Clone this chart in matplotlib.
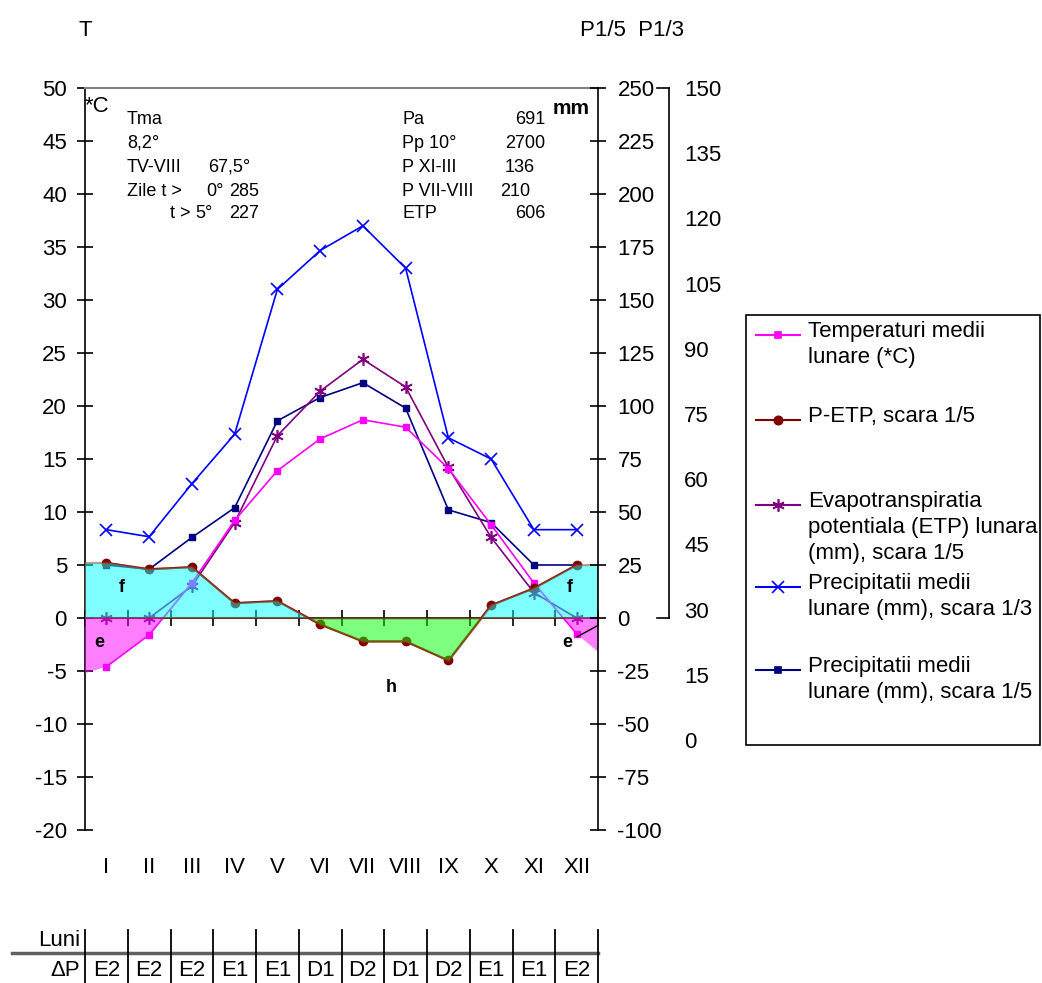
import numpy as np
import matplotlib
matplotlib.use('Agg')
import matplotlib.pyplot as plt
import matplotlib.transforms as mtransforms
from matplotlib.lines import Line2D
from matplotlib.patches import Rectangle

plt.rcParams['font.family'] = ['Liberation Sans', 'DejaVu Sans']
plt.rcParams['axes.unicode_minus'] = False

# date
luni = ['I', 'II', 'III', 'IV', 'V', 'VI', 'VII', 'VIII', 'IX', 'X', 'XI', 'XII']
delta_p = ['E2', 'E2', 'E2', 'E1', 'E1', 'D1', 'D2', 'D1', 'D2', 'E1', 'E1', 'E2']

temp = [-4.6, -1.6, 3.3, 9.2, 13.9, 16.9, 18.7, 18.0, 14.1, 8.8, 3.3, -1.5]   # *C
etp = [0, 0, 15, 45, 86, 107, 122, 109, 71, 38, 12, 0]                       # mm
prec = [25, 23, 38, 52, 93, 104, 111, 99, 51, 45, 25, 25]                    # mm
p_etp = [26, 23, 24, 7, 8, -3, -11, -11, -20, 6, 14, 25]                     # mm

W, H = 1042, 983
fig = plt.figure(figsize=(W / 100, H / 100), dpi=100)

def fx(x):
    return x / W

def fy(y):
    return 1 - y / H

ax = fig.add_axes([fx(85), fy(830), fx(598) - fx(85), fy(88) - fy(830)])
x = np.arange(12)

t = np.array(temp)
pe = np.array(p_etp) / 5

# linii
ax.plot(x, np.array(prec) / 3, color='#0000FF', lw=1.2, marker='x', ms=8, mew=1.2, zorder=2)
ax.plot(x, np.array(prec) / 5, color='#000080', lw=1.2, marker='s', ms=5, zorder=2)
ax.plot(x, np.array(etp) / 5, color='#800080', lw=1.2, marker=(6, 2, 0), ms=9, mew=1.2, zorder=2)
ax.plot(x, t, color='#FF00FF', lw=1.2, marker='s', ms=4, zorder=2)
ax.plot(x, pe, color='#800000', lw=1.5, marker='o', ms=6, zorder=2)

# zone colorate (peste linii, semi-transparente)
xe = np.r_[-0.5, x, 11.5]
pee = np.r_[pe[0], pe, pe[-1]]
te = np.r_[t[0] + (t[0] - t[1]) * 0.2, t, t[-1] + (t[-1] - t[-2]) * 0.35]
ax.fill_between(xe, 0, pee, where=pee >= 0, interpolate=True, facecolor='#00FFFF',
                alpha=0.5, edgecolor='#A0401A', lw=1.5, zorder=3)
ax.fill_between(xe, 0, pee, where=pee <= 0, interpolate=True, facecolor='#00FF00',
                alpha=0.5, edgecolor='#A0401A', lw=1.5, zorder=3)
ax.fill_between(xe, 0, te, where=te <= 0, interpolate=True, facecolor='#FF00FF',
                alpha=0.5, edgecolor='none', zorder=3)

ax.text(0.37, 2.9, 'f', fontsize=13, fontweight='bold', ha='center', va='center', zorder=5)
ax.text(10.85, 2.9, 'f', fontsize=13, fontweight='bold', ha='center', va='center', zorder=5)
ax.text(-0.17, -2.3, 'e', fontsize=13, fontweight='bold', ha='center', va='center', zorder=5)
ax.annotate('e', xy=(11.5, -0.7), xytext=(10.77, -2.3), fontsize=13, fontweight='bold',
            ha='center', va='center', zorder=5,
            arrowprops=dict(arrowstyle='-', color='black', lw=1, shrinkA=2, shrinkB=0))
ax.text(6.66, -6.6, 'h', fontsize=13, fontweight='bold', ha='center', va='center', zorder=5)

ax.set_xlim(-0.5, 11.5)
ax.set_ylim(-20, 50)
ax.set_yticks(range(-20, 51, 5))
ax.set_xticks(np.arange(-0.5, 12, 1))
ax.tick_params(axis='x', direction='inout', length=12, width=1.2, labelbottom=False)
ax.tick_params(axis='y', direction='inout', length=12, width=1.2, pad=7, labelsize=16)
ax.spines['bottom'].set_position(('data', 0))
ax.spines['bottom'].set_linewidth(1.2)
ax.spines['left'].set_linewidth(1.2)
ax.spines['right'].set_visible(False)
ax.spines['top'].set_color('#808080')
ax.spines['top'].set_linewidth(1.5)

tr = mtransforms.blended_transform_factory(ax.transData, ax.transAxes)
for i, name in enumerate(luni):
    ax.text(i, -0.0512, name, transform=tr, ha='center', va='center', fontsize=16)

# axa mm (scara 1/5)
ax2 = ax.twinx()
ax2.set_ylim(-100, 250)
ax2.set_yticks(range(-100, 251, 25))
ax2.tick_params(axis='y', direction='inout', length=12, width=1.2, pad=8, labelsize=16)
for s in ['top', 'left', 'bottom']:
    ax2.spines[s].set_visible(False)
ax2.spines['right'].set_linewidth(1.2)

# a treia axa (scara 1/3)
ax3 = ax.twinx()
ax3.set_ylim(-20.7, 150)
ax3.set_yticks(range(0, 151, 15))
ax3.spines['right'].set_position(('axes', (669 - 85) / 513))
ax3.spines['right'].set_bounds(28.05, 150)
ax3.spines['right'].set_linewidth(1.2)
ax3.tick_params(axis='y', length=0, pad=11, labelsize=16)
for s in ['top', 'left', 'bottom']:
    ax3.spines[s].set_visible(False)
tr3 = mtransforms.blended_transform_factory(ax3.transAxes, ax3.transData)
x0, x1 = (657 - 85) / 513, (669 - 85) / 513
ax3.plot([x0, x1], [150, 150], color='black', lw=1.2, transform=tr3, clip_on=False)
ax3.plot([x0, x1], [28.05, 28.05], color='black', lw=1.2, transform=tr3, clip_on=False)

# texte
def ftext(x, y, s, **kw):
    kw.setdefault('fontsize', 13)
    kw.setdefault('va', 'center')
    fig.text(fx(x), fy(y), s, **kw)

ftext(85, 30, 'T', fontsize=16, ha='center')
ftext(580, 30, 'P1/5  P1/3', fontsize=16)
ftext(85, 106, '*C', fontsize=16)
ftext(553, 108, 'mm', fontsize=15, fontweight='bold')

ftext(127, 120, 'Tma')
ftext(127, 143, '8,2°')
ftext(127, 167, 'TV-VIII')
ftext(208, 167, '67,5°')
ftext(127, 191, 'Zile t >')
ftext(206, 191, '0°')
ftext(229, 191, '285')
ftext(170, 213, 't >')
ftext(195, 213, '5°')
ftext(229, 213, '227')

ftext(402, 120, 'Pa')
ftext(545, 120, '691', ha='right')
ftext(402, 143, 'Pp 10°')
ftext(545, 143, '2700', ha='right')
ftext(402, 167, 'P XI-III')
ftext(535, 167, '136', ha='right')
ftext(402, 191, 'P VII-VIII')
ftext(530, 191, '210', ha='right')
ftext(402, 213, 'ETP')
ftext(545, 213, '606', ha='right')

# legenda
fig.add_artist(Rectangle((fx(746), fy(745)), fx(1040) - fx(746), fy(315) - fy(745),
                         transform=fig.transFigure, fill=False, edgecolor='black', lw=1.2))
leg = [
    ('#FF00FF', 's', 4, 'Temperaturi medii\nlunare (*C)', 335),
    ('#800000', 'o', 6, 'P-ETP, scara 1/5', 420),
    ('#800080', (6, 2, 0), 9, 'Evapotranspiratia\npotentiala (ETP) lunara\n(mm), scara 1/5', 505),
    ('#0000FF', 'x', 8, 'Precipitatii medii\nlunare (mm), scara 1/3', 587),
    ('#000080', 's', 5, 'Precipitatii medii\nlunare (mm), scara 1/5', 670),
]
for col, mk, ms, lab, yy in leg:
    fig.add_artist(Line2D([fx(756), fx(800)], [fy(yy), fy(yy)], color=col, lw=1.5,
                          transform=fig.transFigure))
    fig.add_artist(Line2D([fx(778)], [fy(yy)], color=col, marker=mk, ms=ms, mew=1.2,
                          transform=fig.transFigure))
    fig.text(fx(808), fy(yy - 14), lab, fontsize=16, va='top', linespacing=1.3)

# tabel
fig.add_artist(Line2D([fx(12), fx(598)], [fy(953), fy(953)], color='#606060', lw=2.5,
                      transform=fig.transFigure))
for k in range(13):
    xx = 85 + 513 / 12 * k
    fig.add_artist(Line2D([fx(xx), fx(xx)], [fy(930), fy(983)], color='black', lw=1.3,
                          transform=fig.transFigure))
ftext(80, 940, 'Luni', fontsize=16, ha='right')
ftext(80, 970, 'ΔP', fontsize=16, ha='right')
for i, d in enumerate(delta_p):
    ftext(85 + 513 / 12 * (i + 0.5), 970, d, fontsize=16, ha='center')

fig.savefig('out.png', dpi=100)
